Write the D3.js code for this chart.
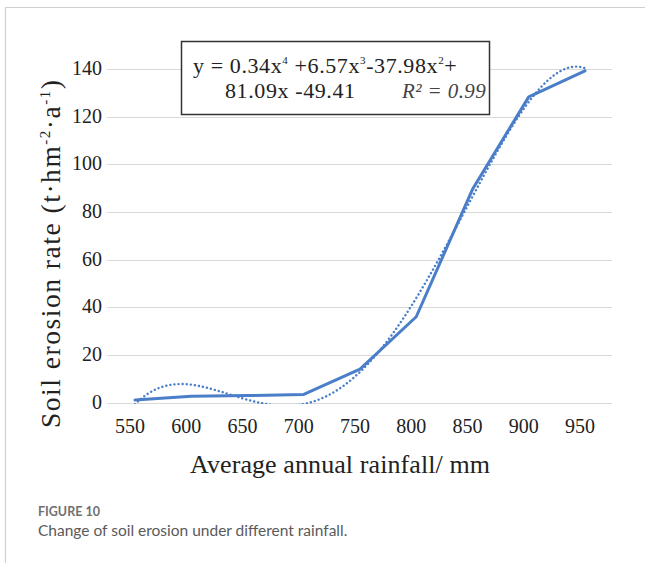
<!DOCTYPE html>
<html>
<head>
<meta charset="utf-8">
<script src="https://cdn.jsdelivr.net/npm/d3@7"></script>
<style>
  html, body { margin: 0; padding: 0; background: #fff; }
  svg { display: block; }
</style>
</head>
<body>
<svg id="chart" width="645" height="563"></svg>
<script>
// Average annual rainfall (mm) and observed soil erosion rate (t·hm⁻²·a⁻¹)
const rainfall = [550, 600, 650, 700, 750, 800, 850, 900, 950];
const erosionRate = [1.0, 2.6, 2.9, 3.4, 14, 36, 89.5, 128.3, 139.2];
const yTicks = [0, 20, 40, 60, 80, 100, 120, 140];
const equationLine1 = ["y = 0.34x", "4", " +6.57x", "3", "-37.98x", "2", "+"];
const equationLine2 = "81.09x -49.41";
const rSquared = "R² = 0.99";
const figureLabel = "FIGURE 10";
const figureCaption = "Change of soil erosion under different rainfall.";

const svg = d3.select("#chart");
const serif = "'Liberation Serif', 'Times New Roman', serif";

// outer card frame
svg.append("path")
  .attr("d", "M5.5,563 L5.5,7.5 L645,7.5")
  .attr("fill", "none").attr("stroke", "#d0d0d0").attr("stroke-width", 1.2);

const x = d3.scaleLinear().domain([550, 950]).range([135, 585]);
const y = d3.scaleLinear().domain([0, 140]).range([402.5, 69]);

// horizontal gridlines
svg.append("g").selectAll("line").data(yTicks).join("line")
  .attr("x1", 107).attr("x2", 612)
  .attr("y1", d => Math.round(y(d)) + 0.5).attr("y2", d => Math.round(y(d)) + 0.5)
  .attr("stroke", "#d9d9d9").attr("stroke-width", 1);

// y tick labels
svg.append("g").selectAll("text").data(yTicks).join("text")
  .attr("x", 102).attr("y", d => y(d) + 6)
  .attr("text-anchor", "end")
  .attr("font-family", serif).attr("font-size", 20).attr("fill", "#222")
  .text(d => d);

// x tick labels
svg.append("g").selectAll("text").data(rainfall).join("text")
  .attr("x", d => x(d) - 5).attr("y", 433)
  .attr("text-anchor", "middle")
  .attr("font-family", serif).attr("font-size", 20).attr("fill", "#222")
  .text(d => d);

// axis titles
svg.append("text")
  .attr("x", 190).attr("y", 473)
  .attr("textLength", 300).attr("lengthAdjust", "spacing")
  .attr("font-family", serif).attr("font-size", 26).attr("fill", "#222")
  .text("Average annual rainfall/ mm");

const yTitle = svg.append("text")
  .attr("transform", "translate(60,428) rotate(-90)")
  .attr("textLength", 348).attr("lengthAdjust", "spacing")
  .attr("font-family", serif).attr("font-size", 27.5).attr("fill", "#222");
yTitle.append("tspan").text("Soil erosion rate (t·hm");
yTitle.append("tspan").attr("dy", -10).attr("font-size", 15).text("-2");
yTitle.append("tspan").attr("dy", 10).text("·a");
yTitle.append("tspan").attr("dy", -10).attr("font-size", 15).text("-1");
yTitle.append("tspan").attr("dy", 10).text(")");

// 4th order least-squares trend of erosion against category index 1..n
function polyFit(xs, ys, order) {
  const n = order + 1;
  const A = Array.from({length: n}, () => new Array(n + 1).fill(0));
  for (let r = 0; r < n; r++) {
    for (let c = 0; c < n; c++) A[r][c] = d3.sum(xs, v => Math.pow(v, r + c));
    A[r][n] = d3.sum(xs, (v, i) => ys[i] * Math.pow(v, r));
  }
  for (let i = 0; i < n; i++) {
    let p = i;
    for (let k = i + 1; k < n; k++) if (Math.abs(A[k][i]) > Math.abs(A[p][i])) p = k;
    [A[i], A[p]] = [A[p], A[i]];
    for (let k = i + 1; k < n; k++) {
      const f = A[k][i] / A[i][i];
      for (let j = i; j <= n; j++) A[k][j] -= f * A[i][j];
    }
  }
  const coef = new Array(n).fill(0);
  for (let i = n - 1; i >= 0; i--) {
    let s = A[i][n];
    for (let j = i + 1; j < n; j++) s -= A[i][j] * coef[j];
    coef[i] = s / A[i][i];
  }
  return t => coef.reduce((acc, c, k) => acc + c * Math.pow(t, k), 0);
}
const idx = rainfall.map((_, i) => i + 1);
const trend = polyFit(idx, erosionRate, 4);
const trendPts = d3.range(1, rainfall.length + 0.001, 0.05).map(t => [550 + (t - 1) * 50, trend(t)]);

svg.append("clipPath").attr("id", "plotClip")
  .append("rect").attr("x", 100).attr("y", 40).attr("width", 520).attr("height", 364);

svg.append("path")
  .datum(trendPts)
  .attr("clip-path", "url(#plotClip)")
  .attr("fill", "none").attr("stroke", "#4a7ec9").attr("stroke-width", 2.4)
  .attr("stroke-linecap", "round").attr("stroke-dasharray", "0.1 4")
  .attr("d", d3.line().x(d => x(d[0])).y(d => y(d[1])));

// observed series
svg.append("path")
  .datum(rainfall.map((r, i) => [r, erosionRate[i]]))
  .attr("fill", "none").attr("stroke", "#4a7ec9").attr("stroke-width", 3)
  .attr("stroke-linejoin", "round").attr("stroke-linecap", "round")
  .attr("d", d3.line().x(d => x(d[0])).y(d => y(d[1])));

// equation box
svg.append("rect")
  .attr("x", 181.5).attr("y", 41.5).attr("width", 308).attr("height", 73)
  .attr("fill", "#fff").attr("stroke", "#333").attr("stroke-width", 1.5);

const eq1 = svg.append("text")
  .attr("x", 193).attr("y", 73)
  .attr("font-family", serif).attr("font-size", 22).attr("fill", "#222")
  .attr("letter-spacing", 0.6);
equationLine1.forEach((s, i) => {
  const sup = i % 2 === 1;
  eq1.append("tspan")
    .attr("dy", sup ? -9 : (i > 0 ? 9 : 0))
    .attr("font-size", sup ? 11 : 22)
    .text(s);
});

svg.append("text")
  .attr("x", 225).attr("y", 98)
  .attr("font-family", serif).attr("font-size", 22).attr("fill", "#222")
  .attr("letter-spacing", 0.6)
  .text(equationLine2);

svg.append("text")
  .attr("x", 402).attr("y", 98)
  .attr("font-family", serif).attr("font-size", 21).attr("font-style", "italic").attr("fill", "#444")
  .attr("letter-spacing", 0.4)
  .text(rSquared);

// figure caption
svg.append("text")
  .attr("x", 38).attr("y", 516)
  .attr("font-family", "Lato, sans-serif").attr("font-size", 12.5).attr("font-weight", 700)
  .attr("fill", "#707070")
  .text(figureLabel);
svg.append("text")
  .attr("x", 38).attr("y", 536)
  .attr("font-family", "Lato, sans-serif").attr("font-size", 15.5).attr("fill", "#5a5a5a")
  .text(figureCaption);
</script>
</body>
</html>
